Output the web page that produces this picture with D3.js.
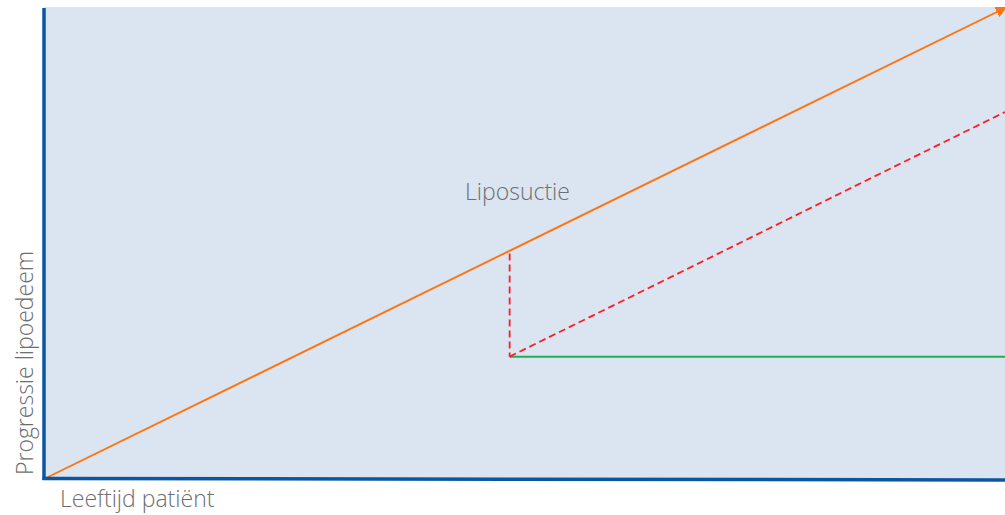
<!DOCTYPE html>
<html><head><meta charset="utf-8">
<script src="https://cdn.jsdelivr.net/npm/d3@7"></script>
<style>body{margin:0;background:#fff}svg{display:block}</style>
</head><body>
<svg id="c" width="1005" height="515"></svg>
<script>
// Abstract data (conceptual chart, units 0..100)
const orangeLine = [[0,0],[100,100]];            // progression without treatment
const dashedVertical = [[48.4,47.8],[48.4,25.9]]; // liposuction drop
const dashedDiag = [[48.4,25.9],[100,77.9]];     // progression continues after liposuction
const greenLine = [[48.4,25.9],[100,25.9]];      // halted progression
const labels = {x:"Leeftijd patiënt", y:"Progressie lipoedeem", event:"Liposuctie"};

const svg = d3.select("#c");
const x = d3.scaleLinear().domain([0,100]).range([45,1005]);
const y = d3.scaleLinear().domain([0,100]).range([478.5,8]);
const line = d3.line().x(d=>x(d[0])).y(d=>y(d[1]));

svg.append("defs").append("marker").attr("id","arr").attr("viewBox","0 0 10 10")
  .attr("refX",8).attr("refY",5).attr("markerWidth",6).attr("markerHeight",6)
  .attr("orient","auto").append("path").attr("d","M0,0L10,5L0,10z").attr("fill","#ff7410");

svg.append("rect").attr("x",x(0)-1).attr("y",7).attr("width",1005-x(0)+1).attr("height",y(0)-7)
  .attr("fill","#dae5f1");

svg.append("path").attr("d",line(greenLine)).attr("stroke","#23ad55").attr("stroke-width",2).attr("fill","none");
svg.append("path").attr("d",line(dashedVertical)).attr("stroke","#ff1d25").attr("stroke-width",1.8)
  .attr("stroke-dasharray","7,4").attr("fill","none");
svg.append("path").attr("d",line(dashedDiag)).attr("stroke","#ff1d25").attr("stroke-width",1.8)
  .attr("stroke-dasharray","7,4").attr("fill","none");
svg.append("path").attr("d",line(orangeLine)).attr("stroke","#ff7410").attr("stroke-width",1.9)
  .attr("fill","none").attr("marker-end","url(#arr)");

// axes
svg.append("line").attr("x1",x(0)-1).attr("x2",x(0)-1).attr("y1",8).attr("y2",y(0)+1.5)
  .attr("stroke","#0b55a3").attr("stroke-width",3.5);
svg.append("line").attr("x1",x(0)-2.5).attr("x2",1005).attr("y1",y(0)).attr("y2",y(0)+1.5)
  .attr("stroke","#0b55a3").attr("stroke-width",3.5);

const font = "'Open Sans', sans-serif";
svg.append("text").attr("x",465).attr("y",200).text(labels.event)
  .attr("font-family",font).attr("font-weight",300).attr("font-size",23).attr("fill","#6d6e71");
svg.append("text").attr("x",60).attr("y",507).text(labels.x)
  .attr("font-family",font).attr("font-weight",300).attr("font-size",23).attr("fill","#6d6e71");
svg.append("text").attr("transform","translate(33,475) rotate(-90)").text(labels.y)
  .attr("font-family",font).attr("font-weight",300).attr("font-size",23).attr("fill","#6d6e71");
</script>
</body></html>
